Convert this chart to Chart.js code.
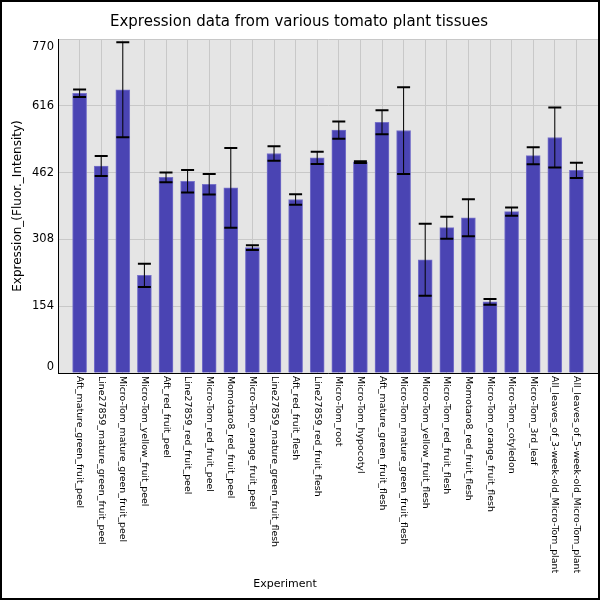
<!DOCTYPE html>
<html>
<head>
<meta charset="utf-8">
<script src="https://cdn.jsdelivr.net/npm/chart.js@4.4.0/dist/chart.umd.min.js"></script>
<style>
  html, body { margin: 0; padding: 0; background: #fff; }
  #wrap { width: 600px; height: 600px; }
</style>
</head>
<body>
<div id="wrap"><canvas id="chart" width="600" height="600"></canvas></div>
<script>
// --- data ---
const experiments = [
  "Aft_mature_green_fruit_peel",
  "Line27859_mature_green_fruit_peel",
  "Micro-Tom_mature_green_fruit_peel",
  "Micro-Tom_yellow_fruit_peel",
  "Aft_red_fruit_peel",
  "Line27859_red_fruit_peel",
  "Micro-Tom_red_fruit_peel",
  "Momotaro8_red_fruit_peel",
  "Micro-Tom_orange_fruit_peel",
  "Line27859_mature_green_fruit_flesh",
  "Aft_red_fruit_flesh",
  "Line27859_red_fruit_flesh",
  "Micro-Tom_root",
  "Micro-Tom_hypocotyl",
  "Aft_mature_green_fruit_flesh",
  "Micro-Tom_mature_green_fruit_flesh",
  "Micro-Tom_yellow_fruit_flesh",
  "Micro-Tom_red_fruit_flesh",
  "Momotaro8_red_fruit_flesh",
  "Micro-Tom_orange_fruit_flesh",
  "Micro-Tom_cotyledon",
  "Micro-Tom_3rd_leaf",
  "All_leaves_of_3-week-old_Micro-Tom_plant",
  "All_leaves_of_5-week-old_Micro-Tom_plant"
];
const expression = [645, 477, 653, 225, 451, 442, 435, 427, 289, 506, 400, 496,
                    560, 486, 578, 559, 261, 335, 358, 164, 372, 501, 543, 467];
const errors = [8.5, 23, 109.5, 27, 11.5, 26, 23.5, 92, 5.5, 16.5, 12, 14,
                20, 2, 27.5, 100, 83, 25.5, 42.5, 6.5, 9.5, 19.5, 69, 17.5];
const yTicks = [0, 154, 308, 462, 616, 770];

const FONT = "'DejaVu Sans', sans-serif";

// plot background + frame + custom tick labels + error bars
const decorPlugin = {
  id: 'decor',
  beforeDraw(chart) {
    const { ctx, chartArea: a } = chart;
    ctx.save();
    ctx.fillStyle = '#e5e5e5';
    ctx.fillRect(a.left, a.top, a.right - a.left, a.bottom - a.top);
    ctx.restore();
  },
  afterDatasetsDraw(chart) {
    const { ctx } = chart;
    const y = chart.scales.y;
    const meta = chart.getDatasetMeta(0);
    ctx.save();
    ctx.strokeStyle = '#000';
    meta.data.forEach((bar, i) => {
      const hi = y.getPixelForValue(expression[i] + errors[i]);
      const lo = y.getPixelForValue(expression[i] - errors[i]);
      ctx.lineWidth = 1;
      ctx.beginPath();
      ctx.moveTo(bar.x, hi);
      ctx.lineTo(bar.x, lo);
      ctx.stroke();
      ctx.lineWidth = 2;
      ctx.beginPath();
      ctx.moveTo(bar.x - 6.5, hi);
      ctx.lineTo(bar.x + 6.5, hi);
      ctx.moveTo(bar.x - 6.5, lo);
      ctx.lineTo(bar.x + 6.5, lo);
      ctx.stroke();
    });
    ctx.restore();
  },
  afterDraw(chart) {
    const { ctx, chartArea: a } = chart;
    const x = chart.scales.x;
    const y = chart.scales.y;
    ctx.save();
    // y tick labels (end labels pulled inside like the original)
    ctx.fillStyle = '#000';
    ctx.font = '11.5px ' + FONT;
    ctx.textAlign = 'right';
    ctx.textBaseline = 'middle';
    yTicks.forEach(v => {
      let py = y.getPixelForValue(v);
      py = Math.min(Math.max(py, a.top + 8), a.bottom - 6);
      ctx.fillText(String(v), a.left - 4, py);
    });
    // x category labels, rotated clockwise
    ctx.font = '9.4px ' + FONT;
    ctx.textAlign = 'left';
    experiments.forEach((name, i) => {
      const px = x.getPixelForValue(i + 1);
      ctx.save();
      ctx.translate(px, a.bottom + 3);
      ctx.rotate(Math.PI / 2);
      ctx.fillText(name, 0, 0);
      ctx.restore();
    });
    // x axis title
    ctx.font = '11px ' + FONT;
    ctx.textAlign = 'center';
    ctx.fillText('Experiment', 285, 584);
    // outer frame
    ctx.strokeStyle = '#000';
    ctx.lineWidth = 2;
    ctx.strokeRect(1, 1, 598, 598);
    ctx.restore();
  }
};

const ctx = document.getElementById('chart').getContext('2d');
const chart = new Chart(ctx, {
  type: 'bar',
  data: {
    datasets: [{
      data: experiments.map((e, i) => ({ x: i + 1, y: expression[i] })),
      backgroundColor: '#4a44b3',
      borderColor: '#7772c9',
      borderWidth: 1,
      borderSkipped: 'bottom',
      barThickness: 14
    }]
  },
  options: {
    responsive: false,
    devicePixelRatio: 1,
    animation: false,
    layout: { padding: { left: 0, right: 2, top: 0, bottom: 0 } },
    plugins: {
      legend: { display: false },
      tooltip: { enabled: false },
      title: {
        display: true,
        text: 'Expression data from various tomato plant tissues',
        color: '#000',
        font: { family: FONT, size: 15, weight: 'normal' },
        padding: { top: 13, bottom: 8 }
      }
    },
    scales: {
      x: {
        type: 'linear',
        min: 0,
        max: 25,
        offset: false,
        ticks: { display: false, stepSize: 1 },
        grid: {
          color: c => (c.tick && c.tick.value === 25) ? 'rgba(0,0,0,0)' : '#c8c8c8',
          drawTicks: false,
          offset: false
        },
        border: { color: '#000', width: 1 },
        afterFit: s => { s.height = 227; }
      },
      y: {
        min: 0,
        max: 770,
        ticks: { display: false, stepSize: 154 },
        grid: { color: '#c8c8c8', drawTicks: false },
        border: { color: '#000', width: 1 },
        title: {
          display: true,
          text: 'Expression_(Fluor._Intensity)',
          color: '#000',
          font: { family: FONT, size: 12 },
          padding: { top: 11, bottom: 0 }
        },
        afterFit: s => { s.width = 58; }
      }
    }
  },
  plugins: [decorPlugin]
});
</script>
</body>
</html>
